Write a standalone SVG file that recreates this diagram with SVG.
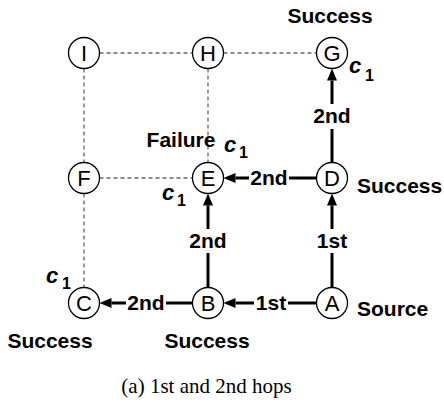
<svg xmlns="http://www.w3.org/2000/svg" width="444" height="411" viewBox="0 0 444 411">
  <style>
    .node circle { fill: #fff; stroke: #000; stroke-width: 1.3; }
    .node text { font-family: "Liberation Sans", Arial, sans-serif; font-size: 22px; text-anchor: middle; fill: #000; }
    .grid { stroke: #666; stroke-width: 1.3; stroke-dasharray: 4 3; fill: none; }
    .hop { stroke: #000; stroke-width: 3; fill: none; }
    .lbl { font-family: "Liberation Sans", Arial, sans-serif; font-size: 21px; font-weight: bold; fill: #000; }
    .mid { text-anchor: middle; }
    .cv { font-family: "Liberation Sans", Arial, sans-serif; font-weight: bold; fill: #000; }
    .cap { font-family: "Liberation Serif", "Times New Roman", serif; font-size: 21px; text-anchor: middle; fill: #000; }
  </style>
  <defs>
    <marker id="head" markerUnits="userSpaceOnUse" markerWidth="14" markerHeight="12" refX="0" refY="6" orient="auto" overflow="visible">
      <path d="M0,1 L12,6 L0,11 Z" fill="#000"/>
    </marker>
  </defs>

  <!-- grid links (dashed) -->
  <g id="grid">
    <line class="grid" x1="99.5" y1="53" x2="192.5" y2="53"/>
    <line class="grid" x1="223.5" y1="53" x2="316.5" y2="53"/>
    <line class="grid" x1="99.5" y1="178" x2="192.5" y2="178"/>
    <line class="grid" x1="84" y1="68.5" x2="84" y2="162.5"/>
    <line class="grid" x1="84" y1="193.5" x2="84" y2="287.5"/>
    <line class="grid" x1="208" y1="68.5" x2="208" y2="162.5"/>
  </g>

  <!-- hop connectors -->
  <g id="connectors">
    <!-- A -> B (1st) -->
    <line class="hop" x1="316.5" y1="303" x2="288" y2="303"/>
    <line class="hop" x1="254" y1="303" x2="235.5" y2="303" marker-end="url(#head)"/>
    <text class="lbl mid" x="271" y="310">1st</text>
    <!-- B -> C (2nd) -->
    <line class="hop" x1="192.5" y1="303" x2="166" y2="303"/>
    <line class="hop" x1="126" y1="303" x2="111.5" y2="303" marker-end="url(#head)"/>
    <text class="lbl mid" x="146" y="310">2nd</text>
    <!-- A -> D (1st) -->
    <line class="hop" x1="332" y1="287.5" x2="332" y2="253"/>
    <line class="hop" x1="332" y1="229" x2="332" y2="205.5" marker-end="url(#head)"/>
    <text class="lbl mid" x="332" y="248">1st</text>
    <!-- B -> E (2nd) -->
    <line class="hop" x1="208" y1="287.5" x2="208" y2="253"/>
    <line class="hop" x1="208" y1="229" x2="208" y2="205.5" marker-end="url(#head)"/>
    <text class="lbl mid" x="208" y="248">2nd</text>
    <!-- D -> E (2nd) -->
    <line class="hop" x1="316.5" y1="178" x2="289" y2="178"/>
    <line class="hop" x1="249" y1="178" x2="235.5" y2="178" marker-end="url(#head)"/>
    <text class="lbl mid" x="269" y="185">2nd</text>
    <!-- D -> G (2nd) -->
    <line class="hop" x1="332" y1="162.5" x2="332" y2="129"/>
    <line class="hop" x1="332" y1="104" x2="332" y2="80.5" marker-end="url(#head)"/>
    <text class="lbl mid" x="332" y="123">2nd</text>
  </g>

  <!-- nodes -->
  <g id="node-I" class="node"><circle cx="84" cy="53" r="15.5"/><text x="84" y="61">I</text></g>
  <g id="node-H" class="node"><circle cx="208" cy="53" r="15.5"/><text x="208" y="61">H</text></g>
  <g id="node-G" class="node"><circle cx="332" cy="53" r="15.5"/><text x="332" y="61">G</text></g>
  <g id="node-F" class="node"><circle cx="84" cy="178" r="15.5"/><text x="84" y="186">F</text></g>
  <g id="node-E" class="node"><circle cx="208" cy="178" r="15.5"/><text x="208" y="186">E</text></g>
  <g id="node-D" class="node"><circle cx="332" cy="178" r="15.5"/><text x="332" y="186">D</text></g>
  <g id="node-C" class="node"><circle cx="84" cy="303" r="15.5"/><text x="84" y="311">C</text></g>
  <g id="node-B" class="node"><circle cx="208" cy="303" r="15.5"/><text x="208" y="311">B</text></g>
  <g id="node-A" class="node"><circle cx="332" cy="303" r="15.5"/><text x="332" y="311">A</text></g>

  <!-- status labels -->
  <g id="labels">
    <text class="lbl mid" x="330" y="23">Success</text>
    <text class="lbl" x="357" y="193">Success</text>
    <text class="lbl mid" x="181" y="147">Failure</text>
    <text class="lbl mid" x="50" y="348">Success</text>
    <text class="lbl mid" x="207" y="348">Success</text>
    <text class="lbl" x="357" y="316">Source</text>
  </g>

  <!-- c1 markers -->
  <g id="c1-marks">
    <text class="cv" x="349" y="73"><tspan font-size="22" font-style="italic">c</tspan><tspan font-size="16" x="365" y="81">1</tspan></text>
    <text class="cv" x="224" y="152"><tspan font-size="22" font-style="italic">c</tspan><tspan font-size="16" x="239" y="158">1</tspan></text>
    <text class="cv" x="162" y="200"><tspan font-size="22" font-style="italic">c</tspan><tspan font-size="16" x="177" y="206">1</tspan></text>
    <text class="cv" x="46" y="283"><tspan font-size="22" font-style="italic">c</tspan><tspan font-size="16" x="62" y="289">1</tspan></text>
  </g>

  <text class="cap" x="206.5" y="393">(a) 1st and 2nd hops</text>
</svg>
